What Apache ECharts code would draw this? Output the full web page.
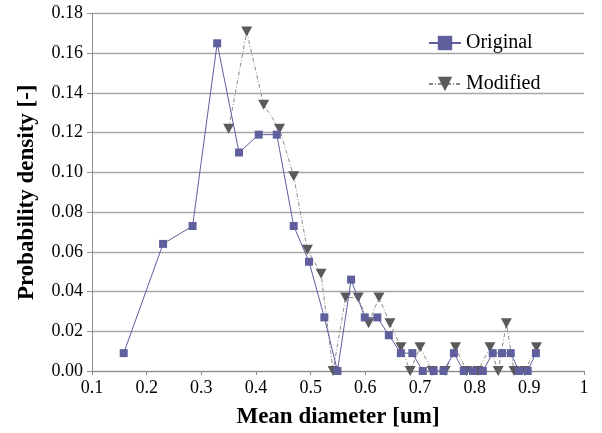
<!DOCTYPE html>
<html><head><meta charset="utf-8">
<script src="https://cdn.jsdelivr.net/npm/echarts@6/dist/echarts.min.js"></script>
<style>html,body{margin:0;padding:0;background:#fff}#c{width:602px;height:433px}</style>
</head><body><div id="c"></div>
<script>
const originalX = [0.158,0.230,0.284,0.329,0.369,0.405,0.438,0.469,0.497,0.525,0.549,0.574,0.599,0.622,0.643,0.665,0.686,0.705,0.725,0.743,0.762,0.780,0.797,0.815,0.833,0.850,0.866,0.881,0.897,0.912];
const originalY = [0.009,0.064,0.073,0.165,0.110,0.119,0.119,0.073,0.055,0.027,0.000,0.046,0.027,0.027,0.018,0.009,0.009,0.000,0.000,0.000,0.009,0.000,0.000,0.000,0.009,0.009,0.009,0.000,0.000,0.009];
const modifiedX = [0.350,0.383,0.414,0.443,0.469,0.494,0.519,0.541,0.564,0.587,0.606,0.625,0.645,0.665,0.682,0.700,0.722,0.746,0.765,0.785,0.806,0.828,0.843,0.858,0.872,0.892,0.913];
const modifiedY = [0.122,0.171,0.134,0.122,0.098,0.061,0.049,0.000,0.037,0.037,0.024,0.037,0.024,0.012,0.000,0.012,0.000,0.000,0.012,0.000,0.000,0.012,0.000,0.024,0.000,0.000,0.012];
const seriesNames = ['Original','Modified'];
const xTitle = 'Mean diameter [um]';
const yTitle = 'Probability density [-]';

const font = 'Liberation Serif';
const chart = echarts.init(document.getElementById('c'));
chart.setOption({
  animation: false,
  grid: {left: 92, right: 18, top: 13.5, bottom: 62, containLabel: false, outerBoundsMode: 'none'},
  legend: {
    orient: 'vertical', left: 423, top: 28, itemGap: 21,
    itemWidth: 32, itemHeight: 18,
    textStyle: {fontFamily: font, fontSize: 20, color: '#000'},
    data: seriesNames
  },
  xAxis: {
    type: 'value', min: 0.1, max: 1, interval: 0.1,
    name: xTitle, nameLocation: 'middle', nameGap: 35,
    nameTextStyle: {fontFamily: font, fontSize: 23, fontWeight: 'bold', color: '#000'},
    axisLine: {show: true, lineStyle: {color: '#8c8c8c', width: 1}},
    axisTick: {show: true, length: 4, lineStyle: {color: '#8c8c8c'}},
    axisLabel: {fontFamily: font, fontSize: 18, color: '#000', margin: 8,
      formatter: v => (Math.abs(v-1) < 1e-9 ? '1' : v.toFixed(1))},
    splitLine: {show: false}
  },
  yAxis: {
    type: 'value', min: 0, max: 0.18, interval: 0.02,
    name: yTitle, nameLocation: 'middle', nameGap: 53,
    nameTextStyle: {fontFamily: font, fontSize: 23, fontWeight: 'bold', color: '#000'},
    axisLine: {show: true, lineStyle: {color: '#8c8c8c', width: 1}},
    axisTick: {show: true, length: 5, lineStyle: {color: '#8c8c8c'}},
    axisLabel: {fontFamily: font, fontSize: 18, color: '#000', margin: 9,
      formatter: v => v.toFixed(2)},
    splitLine: {show: true, lineStyle: {color: '#a6a6a6', width: 1.3}}
  },
  series: [
    {
      name: seriesNames[1], type: 'line',
      data: modifiedX.map((x,i) => [x, modifiedY[i]]),
      symbol: 'triangle', symbolRotate: 180, symbolSize: [11, 10],
      itemStyle: {color: '#5a5a5a'},
      lineStyle: {color: '#8a8a8a', width: 1, type: [4,2,1,2]},
      z: 2
    },
    {
      name: seriesNames[0], type: 'line',
      data: originalX.map((x,i) => [x, originalY[i]]),
      symbol: 'rect', symbolSize: 8,
      itemStyle: {color: '#5f5f9d'},
      lineStyle: {color: '#5f5f9d', width: 1},
      z: 3
    }
  ]
});
</script></body></html>
